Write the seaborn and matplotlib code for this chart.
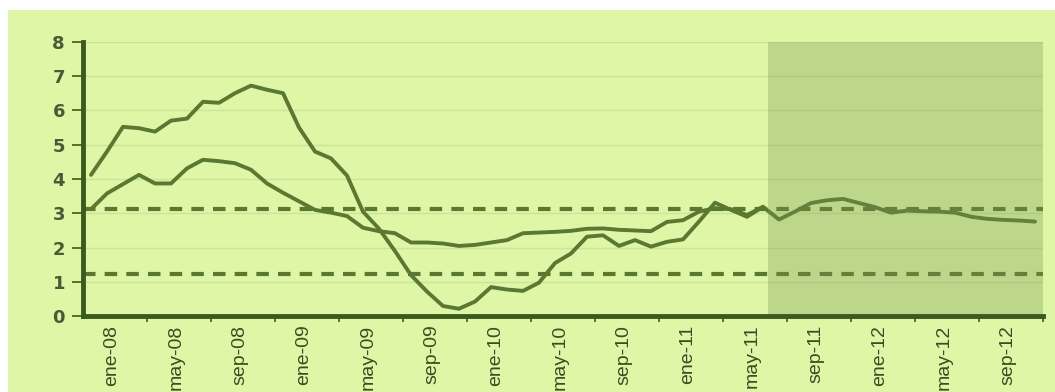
import pandas as pd
import matplotlib.pyplot as plt
import seaborn as sns
from matplotlib.patches import Rectangle

# --- datos ---
meses = ["ene-08", "may-08", "sep-08", "ene-09", "may-09", "sep-09", "ene-10", "may-10",
         "sep-10", "ene-11", "may-11", "sep-11", "ene-12", "may-12", "sep-12"]

serie_a = [4.12, 4.8, 5.52, 5.48, 5.38, 5.7, 5.76, 6.25, 6.22, 6.5, 6.72, 6.6, 6.5, 5.5,
           4.8, 4.6, 4.1, 3.05, 2.55, 1.9, 1.2, 0.72, 0.3, 0.22, 0.43, 0.85, 0.78, 0.74,
           0.98, 1.55, 1.83, 2.32, 2.36, 2.05, 2.22, 2.03, 2.17, 2.24, 2.76, 3.31, 3.1,
           2.9, 3.19]

serie_b = [3.12, 3.58, 3.85, 4.12, 3.87, 3.87, 4.31, 4.56, 4.52, 4.46, 4.27, 3.87, 3.6,
           3.35, 3.1, 3.02, 2.92, 2.58, 2.48, 2.42, 2.15, 2.15, 2.12, 2.05, 2.08, 2.15,
           2.22, 2.42, 2.44, 2.46, 2.49, 2.55, 2.56, 2.52, 2.5, 2.48, 2.75, 2.8, 3.05,
           3.15, 3.12, 2.95, 3.19, 2.82, 3.05, 3.3, 3.38, 3.42, 3.3, 3.18, 3.02, 3.08,
           3.06, 3.05, 3.02, 2.9, 2.84, 2.81, 2.79, 2.76]

banda = [1.22, 3.12]        # lineas discontinuas
inicio_proyeccion = 42.3    # zona sombreada (indice de mes)

# --- estilo ---
sns.set_theme(style="white")
verde_fondo = "#dff6a6"
verde_linea = "#5a7832"
verde_oscuro = "#3d5a1e"

df = pd.concat([
    pd.DataFrame({"mes": range(len(serie_a)), "valor": serie_a, "serie": "A"}),
    pd.DataFrame({"mes": range(len(serie_b)), "valor": serie_b, "serie": "B"}),
])

fig = plt.figure(figsize=(10.55, 3.92), dpi=100, facecolor="white")
fig.patches.append(Rectangle((8 / 1055, 0), 1, 382 / 392, transform=fig.transFigure,
                             facecolor=verde_fondo, edgecolor="none", zorder=-10))
ax = fig.add_axes([83 / 1055, 75.7 / 392, 960 / 1055, 274.6 / 392])
ax.set_facecolor(verde_fondo)

for v in range(1, 9):
    ax.axhline(v, color="#cbe39a", lw=1.0, zorder=1)
for v in banda:
    ax.axhline(v, color=verde_linea, lw=3, dashes=(3, 2.2), zorder=2)

sns.lineplot(data=df, x="mes", y="valor", hue="serie", palette=[verde_linea, verde_linea],
             lw=2.8, legend=False, ax=ax, zorder=3)

# zona de proyeccion
ax.axvspan(inicio_proyeccion, 59.5, ymin=0, ymax=1, color="#789650", alpha=0.32, lw=0, zorder=4)

ax.set_xlim(-0.5, 59.5)
ax.set_ylim(0, 8)
ax.set_xlabel("")
ax.set_ylabel("")

for s in ["top", "right"]:
    ax.spines[s].set_visible(False)
for s in ["left", "bottom"]:
    ax.spines[s].set_color(verde_oscuro)
    ax.spines[s].set_linewidth(3.5)
    ax.spines[s].set_zorder(6)

ax.set_yticks(range(0, 9))
ax.set_yticklabels([str(v) for v in range(0, 9)], fontsize=13, fontweight="bold",
                   color="#4a5a35")
ax.tick_params(axis="y", length=8, width=1.2, color=verde_oscuro, pad=5, left=True)

ax.set_xticks([4 * k + 1.3 for k in range(len(meses))])
ax.set_xticklabels(meses, rotation=90, fontsize=14, color="#3a4d22", va="top",
                   family=["Liberation Sans", "DejaVu Sans"])
ax.tick_params(axis="x", length=0, pad=6, bottom=True)
ax.set_xticks([4 * k - 0.5 for k in range(1, 16)], minor=True)
ax.tick_params(axis="x", which="minor", length=4, width=1.2, color=verde_oscuro, bottom=True)

plt.savefig("out.png", dpi=100, facecolor="white")
